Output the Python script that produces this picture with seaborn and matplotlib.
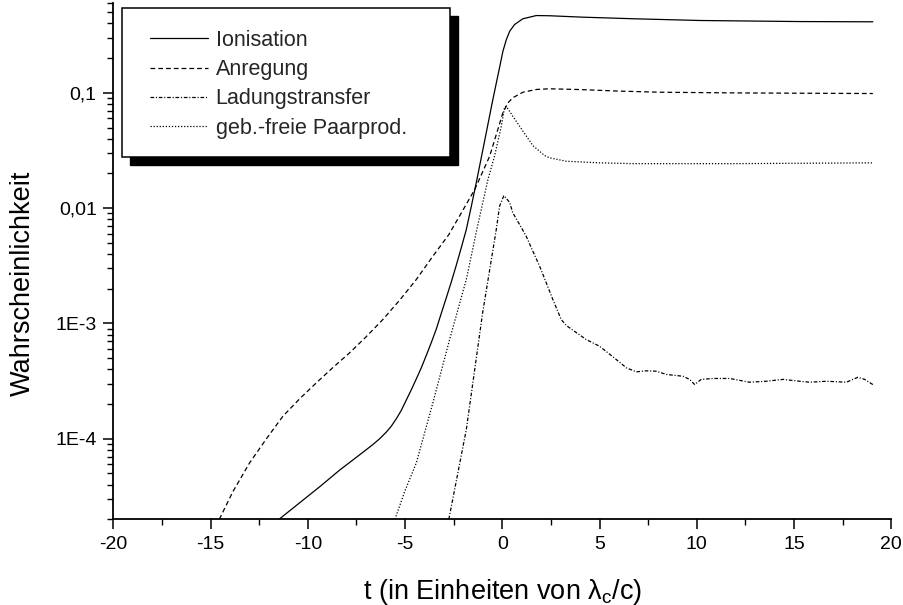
import numpy as np
import pandas as pd
import matplotlib
matplotlib.use("Agg")
import matplotlib.pyplot as plt
import matplotlib.ticker as mticker
from matplotlib.patches import Rectangle
import seaborn as sns

# ---------------- data ----------------
t_ion = [-11.48, -10.42, -9.39, -8.37, -7.34, -6.65, -6.31, -5.97, -5.71, -5.45,
         -5.19, -4.94, -4.68, -4.42, -4.16, -3.91, -3.65, -3.39, -3.14, -2.88,
         -2.62, -2.37, -2.11, -1.85, -1.60, -1.34, -0.90, -0.50, -0.14, 0.03,
         0.21, 0.38, 0.63, 1.06, 1.75, 2.43, 4.14, 6.72, 10.14, 15.29, 19.05]
p_ion = [2.0e-5, 2.78e-5, 3.83e-5, 5.33e-5, 7.24e-5, 8.91e-5, 9.98e-5, 1.138e-4, 1.282e-4, 1.489e-4,
         1.766e-4, 2.158e-4, 2.655e-4, 3.304e-4, 4.14e-4, 5.27e-4, 6.82e-4, 8.97e-4, 1.219e-3, 1.667e-3,
         2.296e-3, 3.177e-3, 4.53e-3, 6.52e-3, 0.01023, 0.01656, 0.0389, 0.0851, 0.166, 0.229,
         0.290, 0.342, 0.391, 0.439, 0.468, 0.466, 0.453, 0.439, 0.424, 0.415, 0.413]

t_anr = [-14.55, -13.85, -12.99, -12.13, -11.28, -10.42, -9.56, -8.71, -7.85, -6.99,
         -6.14, -5.28, -4.42, -3.57, -2.75, -2.00, -1.42, -0.65, -0.23, 0.03,
         0.29, 0.54, 1.06, 1.75, 2.43, 4.0, 6.0, 8.1, 12.0, 16.0, 19.05]
p_anr = [2.0e-5, 3.48e-5, 6.18e-5, 9.98e-5, 1.567e-4, 2.218e-4, 3.055e-4, 4.14e-4, 5.56e-4, 7.69e-4,
         1.081e-3, 1.589e-3, 2.404e-3, 3.828e-3, 5.89e-3, 9.77e-3, 0.01449, 0.02818, 0.0481, 0.0671,
         0.0818, 0.0906, 0.1012, 0.1069, 0.1084, 0.1067, 0.1035, 0.1012, 0.0998, 0.0991, 0.0986]

t_lad = [-2.75, -1.85, -1.01, -0.31, -0.14, 0.08, 0.38, 0.54, 0.89, 1.23,
         1.57, 1.92, 2.26, 2.60, 3.03, 3.29, 3.63, 4.32, 5.00, 5.69,
         6.38, 6.89, 7.40, 7.92, 8.43, 9.29, 9.63, 9.89, 10.23, 10.83,
         11.69, 12.71, 13.57, 14.43, 15.29, 15.80, 16.66, 17.69, 18.28, 18.63,
         19.05]
p_lad = [2.0e-5, 1.2e-4, 1.24e-3, 6.52e-3, 0.0104, 0.01285, 0.0112, 9.1e-3, 7.2e-3, 5.70e-3,
         4.23e-3, 3.13e-3, 2.25e-3, 1.61e-3, 1.08e-3, 9.6e-4, 8.73e-4, 7.24e-4, 6.34e-4, 5.13e-4,
         4.12e-4, 3.80e-4, 3.88e-4, 3.85e-4, 3.61e-4, 3.48e-4, 3.27e-4, 2.95e-4, 3.27e-4, 3.33e-4,
         3.33e-4, 3.09e-4, 3.15e-4, 3.27e-4, 3.15e-4, 3.09e-4, 3.15e-4, 3.09e-4, 3.41e-4, 3.27e-4,
         2.95e-4]

t_paar = [-5.52, -5.0, -4.42, -3.57, -2.71, -1.85, -1.31, -0.74, -0.40, -0.05,
          0.12, 0.20, 0.29, 0.54, 1.06, 1.57, 2.17, 2.43, 3.29, 5.0,
          6.72, 11.86, 19.05]
p_paar = [2.0e-5, 3.55e-5, 6.18e-5, 2.047e-4, 7.24e-4, 2.404e-3, 6.52e-3, 0.0177, 0.0282, 0.0513,
          0.0757, 0.0762, 0.0726, 0.0627, 0.0465, 0.0349, 0.0286, 0.0273, 0.0255, 0.0247,
          0.0243, 0.0243, 0.0247]

series_names = ["Ionisation", "Anregung", "Ladungstransfer", "geb.-freie Paarprod."]

y_tick_values = [1e-4, 1e-3, 1e-2, 1e-1]
y_tick_labels = ["1E-4", "1E-3", "0,01", "0,1"]
x_tick_values = [-20, -15, -10, -5, 0, 5, 10, 15, 20]
x_tick_labels = ["-20", "-15", "-10", "-5", "0", "5", "10", "15", "20"]

x_label = "t (in Einheiten von λ$_c$/c)"
y_label = "Wahrscheinlichkeit"

# ---------------- style ----------------
sns.set_theme(style="ticks")
plt.rcParams["font.family"] = ["Liberation Sans", "DejaVu Sans"]
plt.rcParams["mathtext.fontset"] = "custom"
plt.rcParams["mathtext.rm"] = "Liberation Sans"
plt.rcParams["mathtext.it"] = "Liberation Sans"
plt.rcParams["mathtext.default"] = "regular"
plt.rcParams["lines.scale_dashes"] = False

fig = plt.figure(figsize=(9.04, 6.05), dpi=100)
ax = fig.add_axes([113.3 / 904, 1 - 519.3 / 605, 778.0 / 904, 516.2 / 605])

frames = [
    pd.DataFrame({"t": t_ion, "p": p_ion}),
    pd.DataFrame({"t": t_anr, "p": p_anr}),
    pd.DataFrame({"t": t_lad, "p": p_lad}),
    pd.DataFrame({"t": t_paar, "p": p_paar}),
]
dash_styles = [(None, None), (3.4, 2.2), (2.6, 1.3, 0.8, 1.3), (0.9, 1.3)]

handles = []
for df, name, dsh in zip(frames, series_names, dash_styles):
    kw = dict(color="black", linewidth=0.9)
    if dsh[0] is not None:
        kw["dashes"] = dsh
    sns.lineplot(data=df, x="t", y="p", ax=ax, estimator=None, sort=False,
                 legend=False, **kw)
    handles.append(ax.lines[-1])

ax.set_yscale("log")
ax.set_xlim(-20, 20)
ax.set_ylim(2e-5, 0.6)

ax.xaxis.set_major_locator(mticker.FixedLocator(x_tick_values))
ax.xaxis.set_major_formatter(mticker.FixedFormatter(x_tick_labels))
ax.xaxis.set_minor_locator(mticker.MultipleLocator(2.5))
ax.yaxis.set_major_locator(mticker.FixedLocator(y_tick_values))
ax.yaxis.set_major_formatter(mticker.FixedFormatter(y_tick_labels))
ax.yaxis.set_minor_locator(mticker.LogLocator(base=10, subs=np.arange(2, 10), numticks=20))
ax.yaxis.set_minor_formatter(mticker.NullFormatter())

for s in ["top", "right"]:
    ax.spines[s].set_visible(False)
for s in ["left", "bottom"]:
    ax.spines[s].set_linewidth(1.3)
    ax.spines[s].set_color("black")

ax.tick_params(axis="both", which="major", direction="out", length=7.5, width=1.1,
               labelsize=14, pad=4.5, colors="black")
ax.tick_params(axis="both", which="minor", direction="out", length=4.5, width=1.0,
               colors="black")

ax.set_xlabel(x_label, fontsize=19.5, labelpad=17, color="black")
ax.set_ylabel(y_label, fontsize=19.5, color="black")
ax.yaxis.set_label_coords(-0.0994, 0.458)
ax.grid(False)

# ---------------- legend with Origin-like box and shadow ----------------
box_x0, box_y0, box_w, box_h = 122 / 904, 1 - 157 / 605, 328 / 904, 149 / 605
shadow = Rectangle((box_x0 + 8 / 904, box_y0 - 8 / 605), box_w, box_h,
                   transform=fig.transFigure, facecolor="black", edgecolor="black",
                   zorder=2)
frame = Rectangle((box_x0, box_y0), box_w, box_h, transform=fig.transFigure,
                  facecolor="white", edgecolor="black", linewidth=1.1, zorder=3)
fig.patches.extend([shadow, frame])

leg = fig.legend(handles, series_names, loc="upper left",
                 bbox_to_anchor=(150 / 904, 1 - 30 / 605), frameon=False,
                 fontsize=15.5, handlelength=2.7, handletextpad=0.35,
                 labelspacing=0.38, borderpad=0, borderaxespad=0)
leg.set_zorder(5)

fig.savefig("out.png", dpi=100)
